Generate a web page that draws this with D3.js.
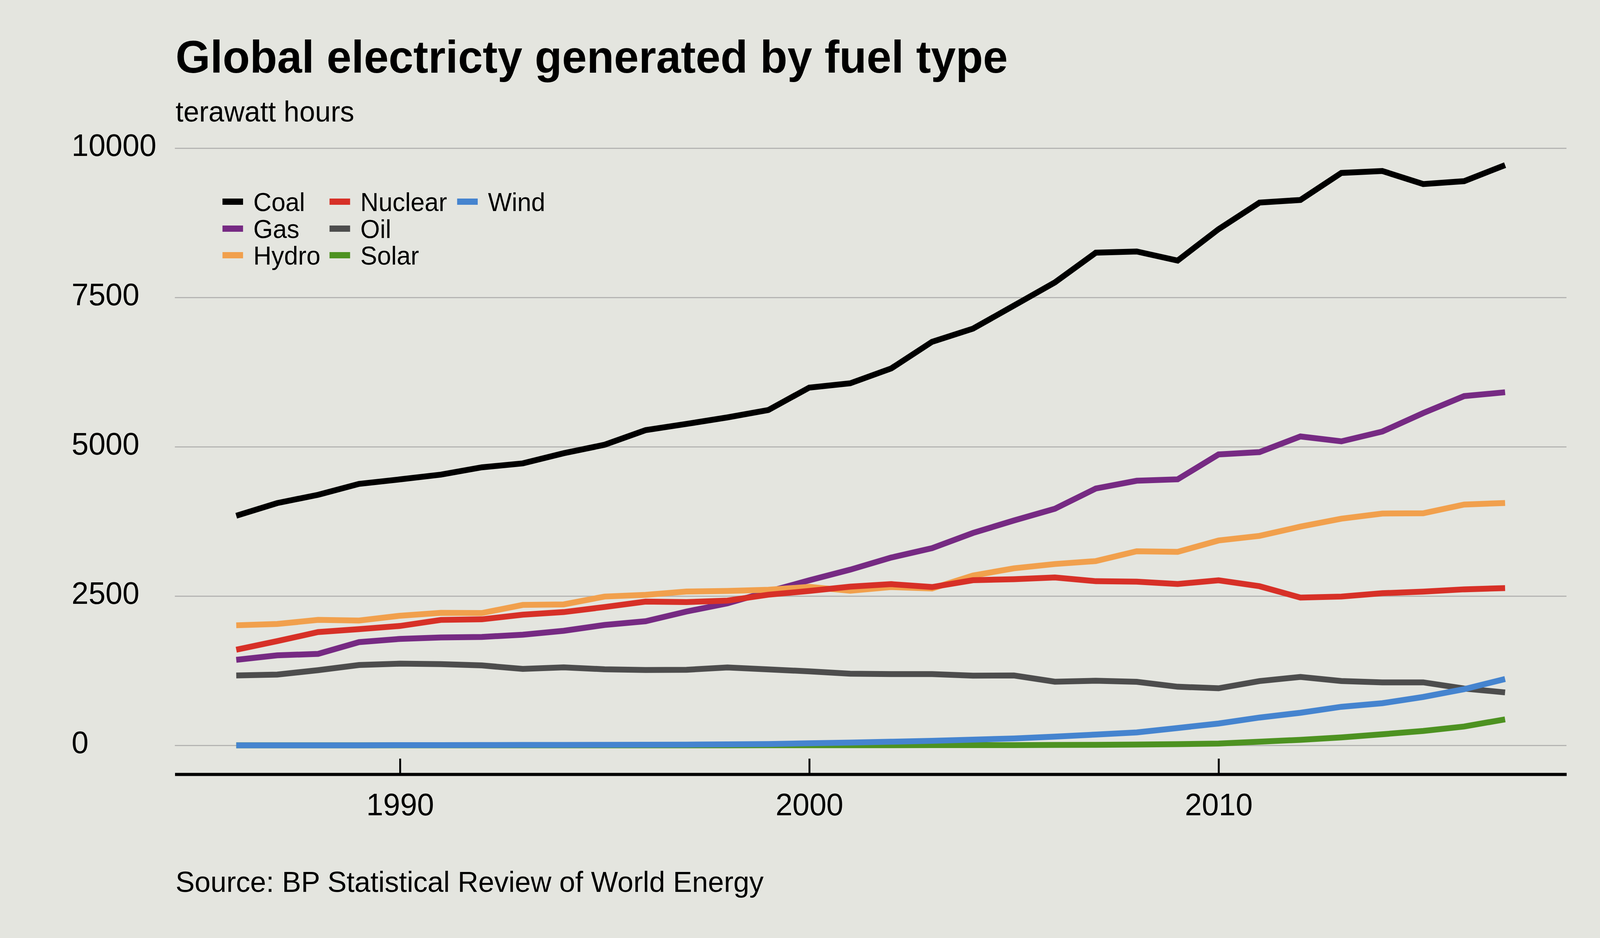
<!DOCTYPE html>
<html>
<head>
<meta charset="utf-8">
<script src="https://cdn.jsdelivr.net/npm/d3@7"></script>
<style>
  html, body { margin: 0; padding: 0; background: #e4e5df; overflow: hidden; }
  #chart { width: 100vw; height: 100vh; }
  svg { display: block; font-family: "Liberation Sans", Arial, sans-serif; }
</style>
</head>
<body>
<div id="chart"></div>
<script>
var years = [1986, 1987, 1988, 1989, 1990, 1991, 1992, 1993, 1994, 1995, 1996,
  1997, 1998, 1999, 2000, 2001, 2002, 2003, 2004, 2005, 2006, 2007, 2008, 2009,
  2010, 2011, 2012, 2013, 2014, 2015, 2016, 2017];

var coal = [3844, 4056, 4195, 4378, 4453, 4533, 4655, 4721, 4891, 5033, 5277,
  5382, 5491, 5615, 5990, 6062, 6310, 6757, 6977, 7363, 7751, 8249, 8269, 8117,
  8643, 9088, 9132, 9585, 9617, 9398, 9447, 9716];
var gas = [1432, 1507, 1531, 1728, 1782, 1806, 1815, 1852, 1918, 2016, 2078,
  2240, 2377, 2575, 2763, 2941, 3144, 3301, 3556, 3765, 3961, 4300, 4430, 4454,
  4871, 4910, 5172, 5090, 5254, 5564, 5848, 5912];
var hydro = [2010, 2032, 2100, 2089, 2170, 2218, 2215, 2351, 2360, 2491, 2519,
  2575, 2585, 2605, 2653, 2588, 2650, 2627, 2843, 2964, 3036, 3085, 3249, 3240,
  3430, 3507, 3662, 3795, 3881, 3886, 4032, 4058];
var nuclear = [1601, 1745, 1896, 1946, 1999, 2100, 2110, 2187, 2231, 2316, 2406,
  2399, 2423, 2522, 2585, 2657, 2699, 2650, 2765, 2781, 2811, 2748, 2741, 2702,
  2763, 2664, 2474, 2491, 2547, 2573, 2612, 2633];
var oil = [1170, 1185, 1258, 1345, 1367, 1360, 1338, 1279, 1306, 1273, 1262,
  1265, 1304, 1271, 1239, 1199, 1193, 1193, 1167, 1170, 1065, 1082, 1063, 981,
  955, 1076, 1145, 1076, 1054, 1054, 951, 886];
var solar = [0, 0, 0, 0, 0, 0, 0, 0, 0, 0, 0,
  0, 0, 1, 1, 1, 2, 3, 3, 4, 6, 8, 13, 20,
  30, 60, 92, 133, 185, 240, 315, 435];
var wind = [0, 0, 0, 0, 4, 4, 5, 6, 7, 8, 10,
  12, 16, 21, 35, 45, 60, 75, 95, 115, 145, 180, 216, 290,
  365, 465, 545, 645, 705, 810, 940, 1110];

var seriesNames = ['Coal', 'Gas', 'Hydro', 'Nuclear', 'Oil', 'Solar', 'Wind'];
var seriesValues = [coal, gas, hydro, nuclear, oil, solar, wind];
var seriesColors = ['#000000', '#762a83', '#f1a04d', '#d73027', '#4d4d4d', '#4d9221', '#4584cf'];

var yTicks = [0, 2500, 5000, 7500, 10000];
var xTicks = [1990, 2000, 2010];

var width = 4200, height = 2400;

// viewBox stretched to the window so the drawing always fills it
var svg = d3.select('#chart').append('svg')
  .attr('viewBox', '0 0 ' + width + ' ' + height)
  .attr('preserveAspectRatio', 'none')
  .attr('width', '100%')
  .attr('height', '100%');

svg.append('rect')
  .attr('width', width)
  .attr('height', height)
  .attr('fill', '#e4e5df');

var xScale = d3.scaleLinear()
  .domain([1984.5, 2018.5])
  .range([459, 4112]);

var yScale = d3.scaleLinear()
  .domain([0, 10000])
  .range([1907, 379]);

// title + subtitle
svg.append('text')
  .attr('x', 461)
  .attr('y', 186)
  .attr('font-size', 117)
  .attr('font-weight', 'bold')
  .attr('fill', '#000')
  .text('Global electricty generated by fuel type');

svg.append('text')
  .attr('x', 461)
  .attr('y', 311)
  .attr('font-size', 74)
  .attr('fill', '#000')
  .text('terawatt hours');

// y grid + labels
var yAxis = d3.axisLeft(yScale)
  .tickValues(yTicks)
  .tickFormat(d3.format('d'))
  .tickSize(-(4112 - 459))
  .tickPadding(0);

var yAxisG = svg.append('g')
  .attr('transform', 'translate(459,0)')
  .call(yAxis);

yAxisG.select('.domain').remove();
yAxisG.selectAll('.tick line')
  .attr('stroke', '#b5b5b3')
  .attr('stroke-width', 3);
yAxisG.selectAll('.tick text')
  .attr('x', 188 - 459)
  .attr('dy', '0.24em')
  .attr('text-anchor', 'start')
  .attr('font-size', 80)
  .attr('font-family', '"Liberation Sans", Arial, sans-serif')
  .attr('fill', '#000');

// x axis
var xAxis = d3.axisBottom(xScale)
  .tickValues(xTicks)
  .tickFormat(d3.format('d'))
  .tickSizeInner(-40)
  .tickSizeOuter(0)
  .tickPadding(48);

var xAxisG = svg.append('g')
  .attr('transform', 'translate(0,1981)')
  .call(xAxis);

xAxisG.select('.domain')
  .attr('stroke', '#000')
  .attr('stroke-width', 8);
xAxisG.selectAll('.tick line')
  .attr('stroke', '#000')
  .attr('stroke-width', 5);
xAxisG.selectAll('.tick text')
  .attr('font-size', 80)
  .attr('font-family', '"Liberation Sans", Arial, sans-serif')
  .attr('fill', '#000');

// lines
var line = d3.line()
  .x(function(d, i) { return xScale(years[i]); })
  .y(function(d) { return yScale(d); });

svg.append('g')
  .selectAll('path')
  .data(seriesValues)
  .enter()
  .append('path')
  .attr('d', function(d) { return line(d); })
  .attr('fill', 'none')
  .attr('stroke', function(d, i) { return seriesColors[i]; })
  .attr('stroke-width', 15)
  .attr('stroke-linejoin', 'miter')
  .attr('stroke-linecap', 'butt');

// legend, three rows per column
var legendCols = [584, 865, 1200];
var legendRows = [516, 585, 653];

var legend = svg.append('g')
  .selectAll('g')
  .data(seriesNames)
  .enter()
  .append('g')
  .attr('transform', function(d, i) {
    return 'translate(' + legendCols[Math.floor(i / 3)] + ',' + legendRows[i % 3] + ')';
  });

legend.append('rect')
  .attr('x', 0)
  .attr('y', -8)
  .attr('width', 54)
  .attr('height', 16)
  .attr('fill', function(d, i) { return seriesColors[i]; });

legend.append('text')
  .attr('x', 81)
  .attr('y', 24)
  .attr('font-size', 66)
  .attr('fill', '#000')
  .text(function(d) { return d; });

// source
svg.append('text')
  .attr('x', 461)
  .attr('y', 2282)
  .attr('font-size', 75)
  .attr('fill', '#000')
  .text('Source: BP Statistical Review of World Energy');
</script>
</body>
</html>
